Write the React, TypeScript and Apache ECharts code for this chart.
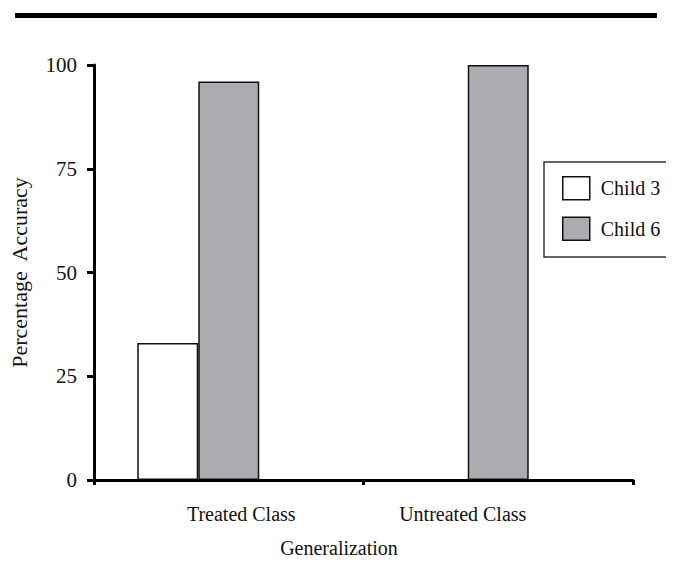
import React, { useEffect, useRef } from "react";
import * as echarts from "echarts";

const categories = ["Treated Class", "Untreated Class"];
const child3Values = [33, 0];
const child6Values = [96, 100];
const yTicks = [0, 25, 50, 75, 100];

const FONT = "Liberation Serif";

export default function App() {
  const ref = useRef<HTMLDivElement>(null);
  useEffect(() => {
    if (!ref.current) return;
    const chart = echarts.init(ref.current, null, { renderer: "svg" });
    const option: any = {
      animation: false,
      backgroundColor: "#ffffff",
      textStyle: { fontFamily: FONT, color: "#111" },
      graphic: [
        {
          type: "rect",
          shape: { x: 15, y: 13, width: 642, height: 5 },
          style: { fill: "#000" },
        },
      ],
      grid: { left: 92, right: 41, top: 65, bottom: 81, containLabel: false },
      legend: {
        orient: "vertical",
        left: 544,
        top: 162,
        padding: [14, 40, 16, 18],
        borderColor: "#333",
        borderWidth: 1.5,
        itemWidth: 27,
        itemHeight: 23,
        itemGap: 16,
        icon: "rect",
        textStyle: { fontFamily: FONT, fontSize: 20, color: "#111", padding: [0, 0, 0, 6] },
        data: [
          { name: "Child 3", itemStyle: { color: "#ffffff", borderColor: "#111", borderWidth: 1.5 } },
          { name: "Child 6", itemStyle: { color: "#abacaf", borderColor: "#111", borderWidth: 1.5 } },
        ],
      },
      xAxis: {
        type: "category",
        data: categories,
        boundaryGap: true,
        name: "Generalization",
        nameLocation: "middle",
        nameGap: 58,
        nameTextStyle: { fontFamily: FONT, fontSize: 20, color: "#111", padding: [0, 49, 0, 0] },
        axisLine: { show: true, lineStyle: { color: "#000", width: 3 } },
        axisTick: { show: true, length: 5, inside: false, lineStyle: { color: "#000", width: 3 } },
        axisLabel: {
          margin: 24,
          fontFamily: FONT,
          fontSize: 20,
          color: "#111",
          formatter: (v: string) => (v === "Treated Class" ? "{a|" + v + "}" : "{b|" + v + "}"),
          rich: {
            a: { fontFamily: FONT, fontSize: 20, color: "#111", padding: [0, 0, 0, 25] },
            b: { fontFamily: FONT, fontSize: 20, color: "#111", padding: [0, 71, 0, 0] },
          },
        },
        splitLine: { show: false },
        z: 10,
      },
      yAxis: {
        type: "value",
        min: 0,
        max: 100,
        interval: 25,
        name: "Percentage  Accuracy",
        nameLocation: "middle",
        nameGap: 64,
        nameTextStyle: { fontFamily: FONT, fontSize: 22, color: "#111" },
        axisLine: { show: true, lineStyle: { color: "#000", width: 3 } },
        axisTick: { show: true, length: 7, lineStyle: { color: "#000", width: 3 } },
        axisLabel: {
          margin: 17,
          fontFamily: FONT,
          fontSize: 21,
          color: "#111",
          formatter: (v: number) => (yTicks.includes(v) ? String(v) : ""),
        },
        splitLine: { show: false },
        z: 10,
      },
      series: [
        {
          name: "Child 3",
          type: "bar",
          data: child3Values,
          barWidth: 61,
          barGap: "0%",
          itemStyle: { color: "#ffffff", borderColor: "#111", borderWidth: 1.5 },
        },
        {
          name: "Child 6",
          type: "bar",
          data: child6Values,
          barWidth: 61,
          barGap: "0%",
          itemStyle: { color: "#abacaf", borderColor: "#111", borderWidth: 1.5 },
        },
        {
          name: "spacer",
          type: "bar",
          data: ["-", "-"],
          barWidth: 61,
          barGap: "0%",
          itemStyle: { color: "transparent" },
          silent: true,
        },
      ],
    };
    chart.setOption(option);
    return () => chart.dispose();
  }, []);
  return <div ref={ref} style={{ width: 674, height: 563, margin: -8 }} />;
}
